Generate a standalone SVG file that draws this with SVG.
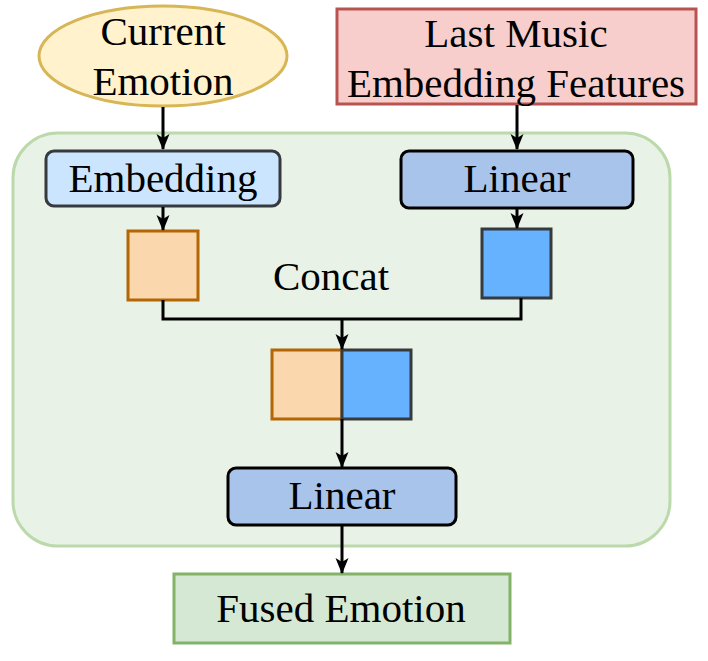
<svg xmlns="http://www.w3.org/2000/svg" width="708" height="661" viewBox="0 0 708 661">
<style>
text{font-family:"Liberation Serif","Times New Roman",serif;font-size:41px;fill:#000;text-anchor:middle}
.c{fill:none;stroke:#000;stroke-width:3}
</style>
<defs>
<marker id="a" viewBox="0 0 16 16" refX="15" refY="8" markerWidth="16" markerHeight="16" markerUnits="userSpaceOnUse" orient="auto" overflow="visible">
<path d="M0,1.5 L16,8 L0,14.5 L4,8 Z" fill="#000"/>
</marker>
</defs>
<rect width="708" height="661" fill="#fff"/>
<g id="container"><rect x="13" y="133" width="657" height="413" rx="45" fill="#e8f2e7" stroke="#bcd9ab" stroke-width="3"/></g>
<g id="current-emotion"><ellipse cx="163" cy="56" rx="124" ry="50" fill="#fff2cc" stroke="#d6b656" stroke-width="3"/><text x="163" y="45">Current</text><text x="163" y="95">Emotion</text></g>
<g id="last-music"><rect x="337" y="9" width="359" height="95" fill="#f8cecc" stroke="#b85450" stroke-width="3"/><text x="516" y="47">Last Music</text><text x="516" y="97">Embedding Features</text></g>
<g id="embedding"><rect x="46" y="151" width="234" height="55" rx="8" fill="#cce5ff" stroke="#36393d" stroke-width="3"/><text x="163" y="192">Embedding</text></g>
<g id="linear1"><rect x="401" y="151" width="232" height="57" rx="8" fill="#a9c4eb" stroke="#000" stroke-width="3"/><text x="517" y="192">Linear</text></g>
<g id="vec-emotion"><rect x="128" y="231" width="70" height="69" fill="#fad7ac" stroke="#b46504" stroke-width="3"/></g>
<g id="vec-music"><rect x="482" y="229" width="69" height="69" fill="#66b2ff" stroke="#36393d" stroke-width="3"/></g>
<g id="concat-label"><text x="331" y="290">Concat</text></g>
<g id="concat-vec"><rect x="272" y="350" width="70" height="69" fill="#fad7ac" stroke="#b46504" stroke-width="3"/><rect x="342" y="350" width="69" height="69" fill="#66b2ff" stroke="#36393d" stroke-width="3"/></g>
<g id="linear2"><rect x="228" y="468" width="228" height="57" rx="8" fill="#a9c4eb" stroke="#000" stroke-width="3"/><text x="342" y="509">Linear</text></g>
<g id="fused"><rect x="174" y="574" width="336" height="69" fill="#d5e8d4" stroke="#82b366" stroke-width="3"/><text x="341" y="622">Fused Emotion</text></g>
<g id="connectors">
<path class="c" d="M163,107 V149" marker-end="url(#a)"/>
<path class="c" d="M517,105 V149" marker-end="url(#a)"/>
<path class="c" d="M163,207 V230" marker-end="url(#a)"/>
<path class="c" d="M517,209 V228" marker-end="url(#a)"/>
<path class="c" d="M163,300 V319 H521 V298"/>
<path class="c" d="M342,319 V349" marker-end="url(#a)"/>
<path class="c" d="M342,419 V467" marker-end="url(#a)"/>
<path class="c" d="M342,526 V573" marker-end="url(#a)"/>
</g>
</svg>
